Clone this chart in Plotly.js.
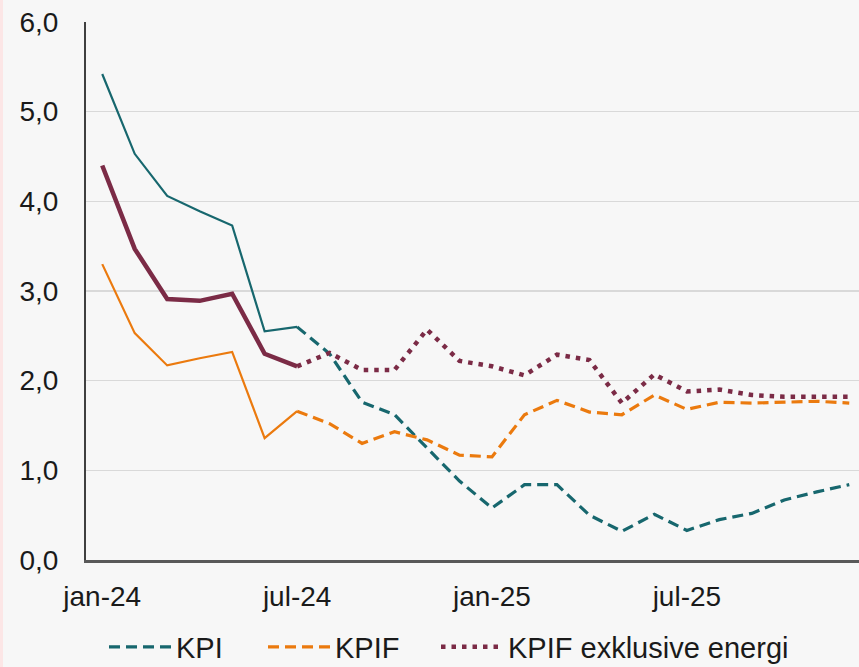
<!DOCTYPE html>
<html>
<head>
<meta charset="utf-8">
<script src="https://cdn.plot.ly/plotly-3.0.1.min.js"></script>
<style>
html,body{margin:0;padding:0;background:#F7F7F7;overflow:hidden;}
#chart{width:859px;height:667px;}
</style>
</head>
<body>
<div id="chart"></div>
<script>
// Months (x categories)
const months = ["jan-24","feb-24","mar-24","apr-24","maj-24","jun-24","jul-24","aug-24","sep-24","okt-24","nov-24","dec-24",
                "jan-25","feb-25","mar-25","apr-25","maj-25","jun-25","jul-25","aug-25","sep-25","okt-25","nov-25","dec-25"];
const tickLabels = ["jan-24","jul-24","jan-25","jul-25"];

// Outcome (jan-24 .. jul-24)
const outcomeMonths = months.slice(0, 7);
const kpiOutcome    = [5.42, 4.53, 4.06, 3.89, 3.73, 2.55, 2.60];
const kpifOutcome   = [3.30, 2.53, 2.17, 2.25, 2.32, 1.36, 1.66];
const kpifxeOutcome = [4.40, 3.47, 2.91, 2.89, 2.97, 2.30, 2.16];

// Forecast (jul-24 .. dec-25)
const forecastMonths = months.slice(6);
const kpiForecast    = [2.60, 2.30, 1.76, 1.62, 1.25, 0.88, 0.58, 0.84, 0.84, 0.50, 0.32, 0.51, 0.33, 0.45, 0.52, 0.67, 0.76, 0.84];
const kpifForecast   = [1.66, 1.52, 1.30, 1.43, 1.34, 1.17, 1.15, 1.62, 1.78, 1.65, 1.62, 1.84, 1.68, 1.76, 1.75, 1.76, 1.77, 1.75];
const kpifxeForecast = [2.16, 2.31, 2.12, 2.12, 2.57, 2.22, 2.16, 2.06, 2.29, 2.23, 1.75, 2.07, 1.88, 1.90, 1.84, 1.82, 1.82, 1.82];

const seriesNames = ["KPI", "KPIF", "KPIF exklusive energi"];

const TEAL = "#17676E", ORANGE = "#EB7A0E", MAROON = "#7B2B46";

const traces = [
  {x: outcomeMonths, y: kpiOutcome, mode: "lines", line: {color: TEAL, width: 2.2}, showlegend: false, hoverinfo: "skip"},
  {x: outcomeMonths, y: kpifOutcome, mode: "lines", line: {color: ORANGE, width: 2.2}, showlegend: false, hoverinfo: "skip"},
  {x: outcomeMonths, y: kpifxeOutcome, mode: "lines", line: {color: MAROON, width: 4.5}, showlegend: false, hoverinfo: "skip"},
  {x: forecastMonths, y: kpiForecast, name: seriesNames[0], legend: "legend", mode: "lines", line: {color: TEAL, width: 3.2, dash: "11px,6px"}},
  {x: forecastMonths, y: kpifForecast, name: seriesNames[1], legend: "legend2", mode: "lines", line: {color: ORANGE, width: 3.2, dash: "11px,6px"}},
  {x: forecastMonths, y: kpifxeForecast, name: seriesNames[2], legend: "legend3", mode: "lines", line: {color: MAROON, width: 4.5, dash: "4.5px,6px"}}
];

const FONT = "Liberation Sans, Arial, sans-serif";
const FS = 28;

function legendAt(px) {
  return {
    orientation: "h",
    xref: "container", yref: "container",
    x: px / 859, xanchor: "left",
    y: 0.03, yanchor: "middle",
    font: {family: FONT, size: 29, color: "#1a1a1a"},
    bgcolor: "rgba(0,0,0,0)",
    itemwidth: 62
  };
}

const layout = {
  width: 859, height: 667,
  paper_bgcolor: "#F7F7F7", plot_bgcolor: "#F7F7F7",
  margin: {l: 86, r: 0, t: 22, b: 107},
  separators: ", ",
  font: {family: FONT, size: FS, color: "#1a1a1a"},
  xaxis: {
    type: "category",
    categoryorder: "array", categoryarray: months,
    range: [-0.5, 23.3],
    tickmode: "array", tickvals: tickLabels, ticktext: tickLabels,
    showgrid: false, zeroline: false,
    showline: true, linecolor: "#595959", linewidth: 2.5,
    ticks: "", ticklabelstandoff: 10,
    tickfont: {family: FONT, size: FS, color: "#1a1a1a"}
  },
  yaxis: {
    range: [0, 6], dtick: 1, tick0: 0,
    tickformat: ".1f",
    showgrid: true, gridcolor: "#D9D9D9", gridwidth: 1.5,
    zeroline: false,
    showline: true, linecolor: "#404040", linewidth: 2,
    ticks: "", ticklabelstandoff: 20,
    tickfont: {family: FONT, size: FS, color: "#1a1a1a"}
  },
  legend: legendAt(104),
  legend2: legendAt(263),
  legend3: legendAt(436),
  shapes: [
    {type: "rect", xref: "paper", yref: "paper", x0: -86/773, x1: -83/773, y0: -107/538, y1: 1 + 22/538,
     fillcolor: "#FCE6E6", line: {width: 0}, layer: "below"}
  ]
};

Plotly.newPlot("chart", traces, layout, {displayModeBar: false, staticPlot: true});
</script>
</body>
</html>
